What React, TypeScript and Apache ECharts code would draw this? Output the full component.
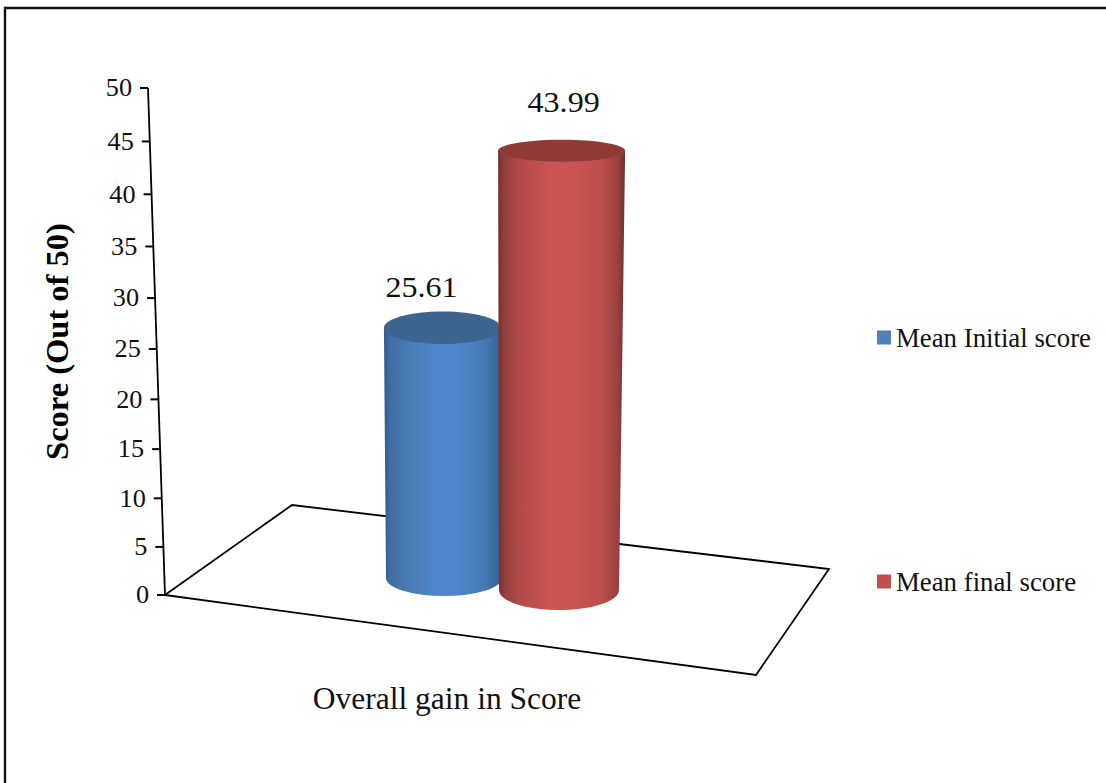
import React, { useEffect, useRef } from "react";
import * as echarts from "echarts";

const categories = ["Overall gain in Score"];
const initialScores = [25.61];
const finalScores = [43.99];
const tickValues = [0, 5, 10, 15, 20, 25, 30, 35, 40, 45, 50];

const SERIF = "'Liberation Serif', 'Times New Roman', serif";
const INK = "#111111";

// Foreshortening of the value axis: upper values are drawn slightly further apart.
const PERSPECTIVE = 0.0575;
const foreshorten = (t: number) => (t * (1 - PERSPECTIVE)) / (1 - PERSPECTIVE * t);

const SPINE_LEAN = -17;
const CYLINDER_HEIGHT = 503;

type Look = {
  dx: number;
  baseDy: number;
  baseRx: number;
  topRx: number;
  topShift: number;
  baseRy: number;
  topRy: number;
  labelDx: number;
  labelDy: number;
  cap: string;
  stops: [number, string][];
};

function cylinder(look: Look) {
  return (params: any, api: any) => {
    const v = api.value(1);
    const [px] = api.coord([0, v]);
    const [, y0] = api.coord([0, 0]);
    const [, y1] = api.coord([0, 50]);
    const span = y0 - y1;
    const t = (y0 - api.coord([0, v])[1]) / span;
    const f = foreshorten(t);

    const cx = px + look.dx;
    const baseY = y0 + look.baseDy;
    const topY = baseY - CYLINDER_HEIGHT * f;
    const topCx = cx + look.topShift * f;
    const topRx = look.baseRx + (look.topRx - look.baseRx) * (f / 0.87);
    const topRy = look.baseRy + (look.topRy - look.baseRy) * (f / 0.87);

    const body =
      `M${topCx - topRx} ${topY}` +
      `L${cx - look.baseRx} ${baseY}` +
      `A${look.baseRx} ${look.baseRy} 0 0 0 ${cx + look.baseRx} ${baseY}` +
      `L${topCx + topRx} ${topY}Z`;

    return {
      type: "group",
      children: [
        {
          type: "path",
          shape: { pathData: body },
          style: {
            fill: new echarts.graphic.LinearGradient(
              0,
              0,
              1,
              0,
              look.stops.map(([offset, color]) => ({ offset, color }))
            ),
          },
        },
        {
          type: "ellipse",
          shape: { cx: topCx, cy: topY, rx: topRx, ry: topRy },
          style: { fill: look.cap },
        },
        {
          type: "text",
          x: topCx + look.labelDx,
          y: topY + look.labelDy,
          scaleX: 1.07,
          style: {
            text: v.toFixed(2),
            font: `30px ${SERIF}`,
            fill: INK,
            align: "center",
            verticalAlign: "middle",
          },
        },
      ],
    };
  };
}

function renderTick(params: any, api: any) {
  const v = api.value(1);
  const left = params.coordSys.x;
  const [, y0] = api.coord([0, 0]);
  const [, y1] = api.coord([0, 50]);
  const span = y0 - y1;
  const f = foreshorten((y0 - api.coord([0, v])[1]) / span);
  const x = left + SPINE_LEAN * f;
  const y = y0 - span * f;
  const children: any[] = [
    {
      type: "line",
      shape: { x1: x - 8, y1: y, x2: x, y2: y },
      style: { stroke: "#000", lineWidth: 2 },
    },
    {
      type: "text",
      x: x - 16,
      y,
      scaleX: 1.05,
      style: {
        text: String(v),
        font: `25px ${SERIF}`,
        fill: INK,
        align: "right",
        verticalAlign: "middle",
      },
    },
  ];
  if (v === 0) {
    children.push({
      type: "line",
      shape: { x1: x, y1: y, x2: x + SPINE_LEAN, y2: y0 - span },
      style: { stroke: "#000", lineWidth: 1.8 },
    });
  }
  return { type: "group", children };
}

export default function App() {
  const ref = useRef<HTMLDivElement>(null);

  useEffect(() => {
    document.body.style.margin = "0";
    const chart = echarts.init(ref.current!, null, { renderer: "svg" });
    chart.setOption({
      animation: false,
      backgroundColor: "#ffffff",
      grid: { left: 165, width: 564, top: 88, height: 507 },
      xAxis: {
        type: "category",
        data: categories,
        axisLine: { show: false },
        axisTick: { show: false },
        axisLabel: {
          margin: 87,
          fontFamily: SERIF,
          fontSize: 31.5,
          color: INK,
        },
      },
      yAxis: {
        type: "value",
        min: 0,
        max: 50,
        interval: 5,
        axisLine: { show: false },
        axisTick: { show: false },
        axisLabel: { show: false },
        splitLine: { show: false },
        name: "Score (Out of 50)",
        nameLocation: "middle",
        nameRotate: 90,
        nameGap: 92,
        nameTextStyle: {
          fontFamily: SERIF,
          fontSize: 32.5,
          fontWeight: "bold",
          color: "#000",
        },
      },
      legend: {
        orient: "vertical",
        left: 872,
        top: 319,
        itemWidth: 14,
        itemHeight: 14,
        itemGap: 217,
        icon: "rect",
        textStyle: { fontFamily: SERIF, fontSize: 26.8, color: INK },
        data: ["Mean Initial score", "Mean final score"],
      },
      graphic: [
        {
          type: "polyline",
          shape: { points: [[5, 783], [5, 8], [1106, 8]] },
          style: { stroke: "#111", lineWidth: 2.4, fill: "none" },
        },
        {
          type: "polygon",
          shape: { points: [[165, 595], [756, 675], [829, 569], [292, 505]] },
          style: { stroke: "#000", lineWidth: 1.8, fill: "none" },
        },
      ],
      series: [
        {
          type: "custom",
          name: "axis",
          z: 2,
          silent: true,
          encode: { x: 0, y: 1 },
          data: tickValues.map((v) => [0, v]),
          renderItem: renderTick,
        },
        {
          type: "custom",
          name: "Mean Initial score",
          z: 3,
          itemStyle: { color: "#4f81bd" },
          encode: { x: 0, y: 1 },
          data: initialScores.map((v) => [0, v]),
          renderItem: cylinder({
            dx: -3,
            baseDy: -17,
            baseRx: 58,
            topRx: 59,
            topShift: -3,
            baseRy: 18,
            topRy: 15,
            labelDx: -21,
            labelDy: -41,
            cap: "#3c648f",
            stops: [
              [0, "#2f5b8b"],
              [0.05, "#3f6ea3"],
              [0.22, "#4a7cb6"],
              [0.45, "#5087cc"],
              [0.62, "#5087cc"],
              [0.85, "#467ab5"],
              [1, "#345f90"],
            ],
          }),
        },
        {
          type: "custom",
          name: "Mean final score",
          z: 4,
          itemStyle: { color: "#c0504d" },
          encode: { x: 0, y: 1 },
          data: finalScores.map((v) => [0, v]),
          renderItem: cylinder({
            dx: 112,
            baseDy: -5,
            baseRx: 60,
            topRx: 63.5,
            topShift: 3,
            baseRy: 20,
            topRy: 11,
            labelDx: 2,
            labelDy: -49,
            cap: "#8f3c39",
            stops: [
              [0, "#74302e"],
              [0.05, "#923f3c"],
              [0.18, "#b24c49"],
              [0.42, "#cb5451"],
              [0.58, "#cb5451"],
              [0.82, "#bb4e4b"],
              [0.94, "#9a413f"],
              [1, "#74302e"],
            ],
          }),
        },
      ],
    });
    return () => chart.dispose();
  }, []);

  return <div ref={ref} style={{ position: "absolute", left: 0, top: 0, width: 1106, height: 783 }} />;
}
